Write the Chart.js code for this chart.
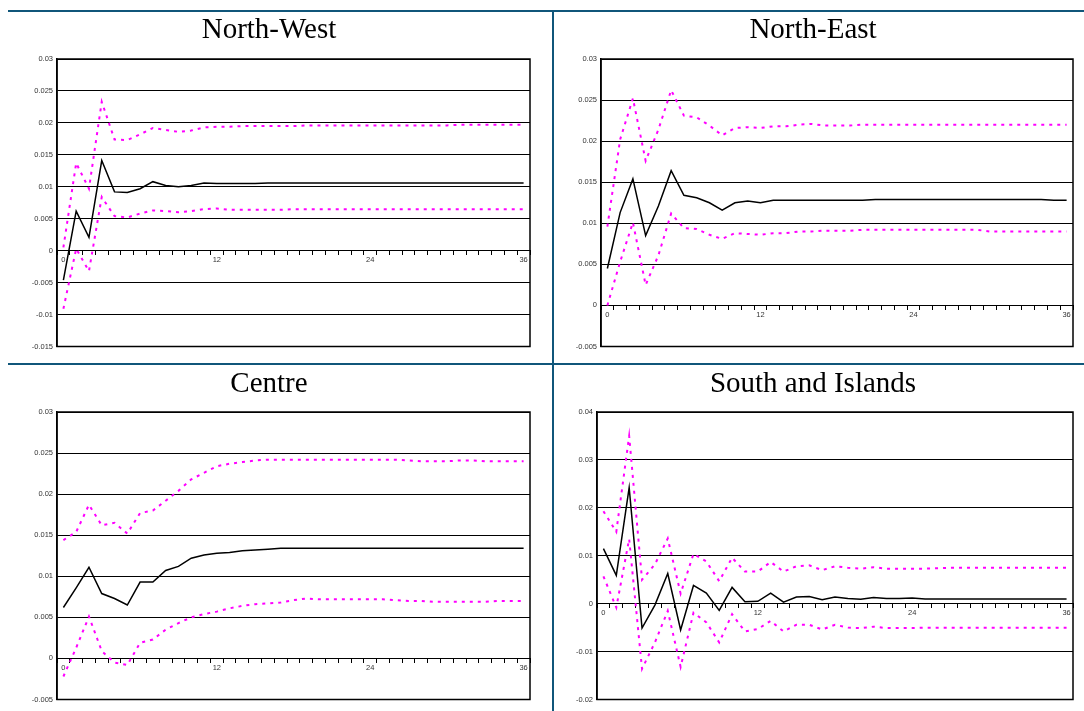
<!DOCTYPE html>
<html>
<head>
<meta charset="utf-8">
<script src="https://cdn.jsdelivr.net/npm/chart.js@4"></script>
<style>
  html, body {
    margin: 0;
    padding: 0;
    background: #fff;
  }
  body {
    position: relative;
    width: 1084px;
    height: 711px;
    overflow: hidden;
  }
  canvas {
    position: absolute;
  }
  .rule {
    position: absolute;
    background: #10567a;
    z-index: 5;
  }
</style>
</head>
<body>
<canvas id="nw" width="545" height="345" style="left:8px;top:10px"></canvas>
<canvas id="ne" width="545" height="345" style="left:553px;top:10px"></canvas>
<canvas id="ce" width="545" height="344" style="left:8px;top:364px"></canvas>
<canvas id="si" width="545" height="344" style="left:553px;top:364px"></canvas>

<div class="rule" style="left:8px;top:10px;width:1076px;height:2px"></div>
<div class="rule" style="left:8px;top:363px;width:1076px;height:2px"></div>
<div class="rule" style="left:552px;top:10px;width:2px;height:701px"></div>

<script>
// horizon (months)
const lags = Array.from({ length: 37 }, (_, i) => i);

// North-West
const nwUpper = [0.0005, 0.0137, 0.0097, 0.0233, 0.0174, 0.0173, 0.0182, 0.0192, 0.0189, 0.0186,
  0.0188, 0.0193, 0.0194, 0.0194, 0.0195, 0.0195, 0.0195, 0.0195, 0.0195, 0.0196,
  0.0196, 0.0196, 0.0196, 0.0196, 0.0196, 0.0196, 0.0196, 0.0196, 0.0196, 0.0196,
  0.0196, 0.0197, 0.0197, 0.0197, 0.0197, 0.0197, 0.0197];
const nwCentral = [-0.0046, 0.0062, 0.0021, 0.0141, 0.0092, 0.0091, 0.0097, 0.0108, 0.0102, 0.0100,
  0.0102, 0.0106, 0.0105, 0.0105, 0.0105, 0.0105, 0.0106, 0.0106, 0.0106, 0.0106,
  0.0106, 0.0106, 0.0106, 0.0106, 0.0106, 0.0106, 0.0106, 0.0106, 0.0106, 0.0106,
  0.0106, 0.0106, 0.0106, 0.0106, 0.0106, 0.0106, 0.0106];
const nwLower = [-0.0091, 0.0003, -0.0032, 0.0084, 0.0054, 0.0052, 0.0058, 0.0063, 0.0062, 0.0060,
  0.0062, 0.0065, 0.0066, 0.0064, 0.0064, 0.0064, 0.0064, 0.0064, 0.0065, 0.0065,
  0.0065, 0.0065, 0.0065, 0.0065, 0.0065, 0.0065, 0.0065, 0.0065, 0.0065, 0.0065,
  0.0065, 0.0065, 0.0065, 0.0065, 0.0065, 0.0065, 0.0065];

// North-East
const neUpper = [0.0096, 0.0202, 0.0252, 0.0176, 0.0214, 0.0262, 0.0231, 0.0229, 0.0219, 0.0207,
  0.0216, 0.0217, 0.0216, 0.0218, 0.0218, 0.0220, 0.0221, 0.0219, 0.0219, 0.0219,
  0.0220, 0.0220, 0.0220, 0.0220, 0.0220, 0.0220, 0.0220, 0.0220, 0.0220, 0.0220,
  0.0220, 0.0220, 0.0220, 0.0220, 0.0220, 0.0220, 0.0220];
const neCentral = [0.0045, 0.0113, 0.0154, 0.0085, 0.0121, 0.0164, 0.0134, 0.0131, 0.0125, 0.0116,
  0.0125, 0.0127, 0.0125, 0.0128, 0.0128, 0.0128, 0.0128, 0.0128, 0.0128, 0.0128,
  0.0128, 0.0129, 0.0129, 0.0129, 0.0129, 0.0129, 0.0129, 0.0129, 0.0129, 0.0129,
  0.0129, 0.0129, 0.0129, 0.0129, 0.0129, 0.0128, 0.0128];
const neLower = [0.0000, 0.0053, 0.0101, 0.0025, 0.0061, 0.0112, 0.0094, 0.0093, 0.0086, 0.0081,
  0.0088, 0.0087, 0.0086, 0.0088, 0.0088, 0.0090, 0.0090, 0.0091, 0.0091, 0.0091,
  0.0092, 0.0092, 0.0092, 0.0092, 0.0092, 0.0092, 0.0092, 0.0092, 0.0092, 0.0092,
  0.0090, 0.0090, 0.0090, 0.0090, 0.0090, 0.0090, 0.0090];

// Centre
const ceUpper = [0.0144, 0.0154, 0.0187, 0.0162, 0.0165, 0.0152, 0.0177, 0.0180, 0.0192, 0.0204,
  0.0218, 0.0226, 0.0234, 0.0237, 0.0239, 0.0241, 0.0242, 0.0242, 0.0242, 0.0242,
  0.0242, 0.0242, 0.0242, 0.0242, 0.0242, 0.0242, 0.0242, 0.0241, 0.0240, 0.0240,
  0.0240, 0.0241, 0.0241, 0.0240, 0.0240, 0.0240, 0.0240];
const ceCentral = [0.0062, 0.0086, 0.0111, 0.0079, 0.0073, 0.0065, 0.0093, 0.0093, 0.0107, 0.0112,
  0.0122, 0.0126, 0.0128, 0.0129, 0.0131, 0.0132, 0.0133, 0.0134, 0.0134, 0.0134,
  0.0134, 0.0134, 0.0134, 0.0134, 0.0134, 0.0134, 0.0134, 0.0134, 0.0134, 0.0134,
  0.0134, 0.0134, 0.0134, 0.0134, 0.0134, 0.0134, 0.0134];
const ceLower = [-0.0022, 0.0013, 0.0051, 0.0009, -0.0005, -0.0008, 0.0019, 0.0023, 0.0035, 0.0043,
  0.0050, 0.0054, 0.0057, 0.0061, 0.0064, 0.0066, 0.0067, 0.0068, 0.0071, 0.0073,
  0.0072, 0.0072, 0.0072, 0.0072, 0.0072, 0.0072, 0.0071, 0.0070, 0.0070, 0.0069,
  0.0069, 0.0069, 0.0069, 0.0069, 0.0070, 0.0070, 0.0070];

// South and Islands
const siUpper = [0.0193, 0.0150, 0.0350, 0.0050, 0.0082, 0.0136, 0.0021, 0.0104, 0.0088, 0.0047,
  0.0096, 0.0067, 0.0067, 0.0087, 0.0067, 0.0078, 0.0080, 0.0070, 0.0078, 0.0075,
  0.0073, 0.0076, 0.0073, 0.0073, 0.0073, 0.0073, 0.0074, 0.0075, 0.0075, 0.0075,
  0.0075, 0.0075, 0.0075, 0.0075, 0.0075, 0.0075, 0.0075];
const siCentral = [0.0115, 0.0059, 0.0242, -0.0051, -0.0003, 0.0063, -0.0055, 0.0038, 0.0022, -0.0014,
  0.0034, 0.0004, 0.0005, 0.0022, 0.0003, 0.0014, 0.0015, 0.0008, 0.0014, 0.0011,
  0.0009, 0.0013, 0.0011, 0.0011, 0.0012, 0.0010, 0.0010, 0.0010, 0.0010, 0.0010,
  0.0010, 0.0010, 0.0010, 0.0010, 0.0010, 0.0010, 0.0010];
const siLower = [0.0057, -0.0008, 0.0135, -0.0136, -0.0081, -0.0015, -0.0132, -0.0019, -0.0039, -0.0081,
  -0.0022, -0.0058, -0.0053, -0.0036, -0.0058, -0.0044, -0.0044, -0.0054, -0.0044, -0.0050,
  -0.0051, -0.0048, -0.0051, -0.0051, -0.0051, -0.0050, -0.0050, -0.0050, -0.0050, -0.0050,
  -0.0050, -0.0050, -0.0050, -0.0050, -0.0050, -0.0050, -0.0050];

const MAGENTA = "#ff00ff";
const TICK_FONT = { family: "'Liberation Sans', Arial, sans-serif", size: 7.5 };

// Plot area frame (right edge has no axis of its own)
const frameBox = {
  id: "frameBox",
  afterDraw(chart) {
    const { ctx, chartArea: a } = chart;
    ctx.save();
    ctx.strokeStyle = "#000";
    ctx.lineWidth = 1.5;
    ctx.strokeRect(a.left, a.top, a.right - a.left, a.bottom - a.top);
    ctx.restore();
  },
};

function band(data, dashed) {
  return {
    data: data,
    borderColor: dashed ? MAGENTA : "#000",
    borderWidth: dashed ? 2 : 1.5,
    borderDash: dashed ? [3, 5] : [],
    pointRadius: 0,
    tension: 0,
    fill: false,
  };
}

function makePanel(id, title, upper, central, lower, cfg) {
  const ctx = document.getElementById(id);
  return new Chart(ctx, {
    type: "line",
    data: {
      labels: lags,
      datasets: [band(upper, true), band(central, false), band(lower, true)],
    },
    plugins: [frameBox],
    options: {
      responsive: false,
      animation: false,
      devicePixelRatio: 1,
      layout: { padding: { left: 0, right: cfg.padRight, top: 0, bottom: 6 } },
      plugins: {
        legend: { display: false },
        tooltip: { enabled: false },
        title: {
          display: true,
          text: title,
          color: "#000",
          font: { family: "'Liberation Serif', 'Times New Roman', serif", size: 29, weight: "normal" },
          padding: { top: cfg.titleTop, bottom: cfg.titleBottom },
        },
      },
      scales: {
        x: {
          type: "category",
          position: { y: 0 },
          offset: true,
          grid: {
            offset: true,
            drawOnChartArea: false,
            drawTicks: true,
            tickLength: 4,
            color: "#000",
            lineWidth: 1,
          },
          border: { display: true, color: "#000", width: 1 },
          ticks: {
            autoSkip: false,
            maxRotation: 0,
            padding: 1,
            color: "#333",
            font: TICK_FONT,
            callback: function (value, index) {
              return index % 12 === 0 ? String(lags[index]) : "";
            },
          },
        },
        y: {
          min: cfg.yMin,
          max: cfg.yMax,
          afterFit: (scale) => {
            scale.width = cfg.yWidth;
          },
          grid: { color: "#000", lineWidth: 1, drawTicks: false },
          border: { display: true, color: "#000", width: 1.5 },
          ticks: {
            stepSize: cfg.yStep,
            padding: 4,
            color: "#333",
            font: TICK_FONT,
            callback: (v) => String(Number(v.toFixed(4)) || 0),
          },
        },
      },
    },
  });
}

makePanel("nw", "North-West", nwUpper, nwCentral, nwLower, {
  yMin: -0.015, yMax: 0.03, yStep: 0.005, yWidth: 49, padRight: 23, titleTop: 2.6, titleBottom: 11.6,
});
makePanel("ne", "North-East", neUpper, neCentral, neLower, {
  yMin: -0.005, yMax: 0.03, yStep: 0.005, yWidth: 48, padRight: 25, titleTop: 2.6, titleBottom: 11.6,
});
makePanel("ce", "Centre", ceUpper, ceCentral, ceLower, {
  yMin: -0.005, yMax: 0.03, yStep: 0.005, yWidth: 49, padRight: 23, titleTop: 2.6, titleBottom: 10.6,
});
makePanel("si", "South and Islands", siUpper, siCentral, siLower, {
  yMin: -0.02, yMax: 0.04, yStep: 0.01, yWidth: 44, padRight: 25, titleTop: 2.6, titleBottom: 10.6,
});
</script>
</body>
</html>
